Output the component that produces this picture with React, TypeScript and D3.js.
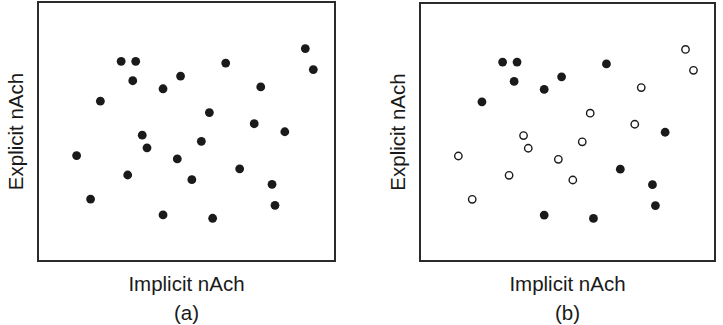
import React from "react";
import * as d3 from "d3";

const xVals = [13.0, 17.7, 21.0, 28.0, 32.9, 31.9, 30.2, 35.1, 36.7, 42.1, 48.0, 42.1, 46.9, 51.8, 55.0, 57.7, 58.8, 63.2, 67.9, 72.8, 75.0, 78.8, 79.8, 83.1, 90.0, 92.7];
const yVals = [40.7, 23.9, 61.7, 77.1, 77.1, 69.6, 33.2, 48.6, 43.7, 66.5, 71.4, 17.8, 39.4, 31.4, 46.2, 57.3, 16.5, 76.4, 35.6, 53.0, 67.2, 29.6, 21.5, 49.9, 82.0, 73.9];
// panel (b): true = filled, false = open
const filledB = [false, false, true, true, true, true, false, false, false, true, true, true, false, false, false, false, true, true, true, false, false, true, true, true, false, false];

const xLabel = "Implicit nAch";
const yLabel = "Explicit nAch";
const panelLabels = ["(a)", "(b)"];

const FONT = "'Liberation Sans', Arial, Helvetica, sans-serif";

function Panel({ left, right, top, bottom, label, fills }: { left: number; right: number; top: number; bottom: number; label: string; fills: boolean[] | null }) {
  const x = d3.scaleLinear().domain([0, 100]).range([left, right]);
  const y = d3.scaleLinear().domain([0, 100]).range([bottom, top]);
  const cx = (left + right) / 2;
  const cy = (top + bottom) / 2;
  return (
    <g>
      <rect x={left} y={top} width={right - left} height={bottom - top} fill="none" stroke="#2b2b2b" strokeWidth={2} />
      {xVals.map((v, i) => {
        const filled = fills ? fills[i] : true;
        return filled ? (
          <circle key={i} cx={x(v)} cy={y(yVals[i])} r={4.4} fill="#1a1a1a" />
        ) : (
          <circle key={i} cx={x(v)} cy={y(yVals[i])} r={3.7} fill="#fff" stroke="#1a1a1a" strokeWidth={1.4} />
        );
      })}
      <text x={cx} y={290.5} textAnchor="middle" fontFamily={FONT} fontSize={20.5} fill="#1a1a1a">{xLabel}</text>
      <text x={cx} y={319.5} textAnchor="middle" fontFamily={FONT} fontSize={20.5} fill="#1a1a1a">{label}</text>
      <text transform={`translate(${left - 15},${cy}) rotate(-90)`} textAnchor="middle" fontFamily={FONT} fontSize={20.5} fill="#1a1a1a">{yLabel}</text>
    </g>
  );
}

export default function App() {
  return (
    <svg width={723} height={325} style={{ position: "absolute", left: 0, top: 0, background: "#fff" }}>
      <rect x={0} y={0} width={723} height={325} fill="#fff" />
      <Panel left={38} right={335} top={2} bottom={261} label={panelLabels[0]} fills={null} />
      <Panel left={420} right={715} top={3} bottom={261} label={panelLabels[1]} fills={filledB} />
    </svg>
  );
}
